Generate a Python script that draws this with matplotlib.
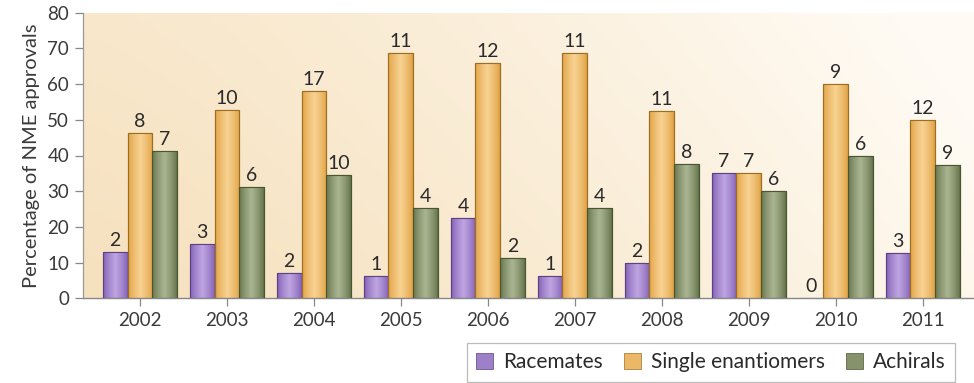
import matplotlib
matplotlib.use("Agg")
import matplotlib.pyplot as plt
import numpy as np
from matplotlib.patches import Patch

years = ["2002", "2003", "2004", "2005", "2006", "2007", "2008", "2009", "2010", "2011"]
series_names = ["Racemates", "Single enantiomers", "Achirals"]
racemates_pct = [12.9, 15.3, 7.0, 6.2, 22.5, 6.2, 10.0, 35.0, 0.0, 12.8]
single_pct = [46.3, 52.7, 58.2, 68.8, 66.0, 68.8, 52.5, 35.0, 60.0, 50.0]
achiral_pct = [41.2, 31.1, 34.5, 25.4, 11.3, 25.4, 37.6, 30.0, 39.8, 37.3]
racemates_n = [2, 3, 2, 1, 4, 1, 2, 7, 0, 3]
single_n = [8, 10, 17, 11, 12, 11, 11, 7, 9, 12]
achiral_n = [7, 6, 10, 4, 2, 4, 8, 6, 6, 9]
yticks = [0, 10, 20, 30, 40, 50, 60, 70, 80]

plt.rcParams['font.family'] = ['Lato', 'DejaVu Sans']

fig = plt.figure(figsize=(9.74, 3.83), dpi=100)
ax = fig.add_axes([83/974, (383-298.3)/383, 891/974, (298.3-12.7)/383])

# background gradient (beige on left fading to near-white on right/top)
gx = np.linspace(0, 1, 256)
gy = np.linspace(0, 1, 64)
GX, GY = np.meshgrid(gx, gy)
c_left = np.array([246, 225, 190]) / 255
c_right = np.array([255, 251, 244]) / 255
t = np.clip(GX**1.3 * 0.85 + GY * 0.25, 0, 1)[..., None]
bg = c_left * (1 - t) + c_right * t
ax.imshow(bg, extent=[0, 1, 0, 1], transform=ax.transAxes, aspect='auto',
          origin='lower', zorder=0)

x = np.arange(len(years))
w = 0.285
specs = [
    (racemates_pct, racemates_n, (np.array([126, 90, 176]), np.array([190, 165, 225])), "#5c4285"),
    (single_pct, single_n, (np.array([222, 158, 62]), np.array([248, 210, 145])), "#9c6e22"),
    (achiral_pct, achiral_n, (np.array([95, 112, 70]), np.array([170, 180, 145])), "#4a5632"),
]
offsets = [-w, 0, w]
legend_handles = []
for (vals, counts, (cdark, clight), edge), off, name in zip(specs, offsets, series_names):
    prof = np.concatenate([np.linspace(0, 1, 32), np.linspace(1, 0, 32)[1:]])
    prof = prof ** 0.7
    grad = (cdark[None, :] * (1 - prof[:, None]) + clight[None, :] * prof[:, None]) / 255
    grad = grad[None, :, :]
    bars = ax.bar(x + off, vals, width=w, color=tuple(cdark / 255), edgecolor=edge,
                  linewidth=0.8, zorder=2)
    for b, v, n in zip(bars, vals, counts):
        if v > 0:
            im = ax.imshow(grad, extent=[b.get_x(), b.get_x() + b.get_width(), 0, v],
                           aspect='auto', zorder=2.5)
            im.set_clip_path(b)
            b2 = plt.Rectangle((b.get_x(), 0), b.get_width(), v, fill=False,
                               edgecolor=edge, linewidth=0.8, zorder=3)
            ax.add_patch(b2)
        ax.text(b.get_x() + b.get_width() / 2, v + 0.8, str(n), ha='center', va='bottom',
                fontsize=14, color='#2a2a2a', zorder=4)
    legend_handles.append(Patch(facecolor=tuple((cdark * 0.5 + clight * 0.5) / 255),
                                edgecolor=edge, linewidth=0.5, label=name))

ax.set_xlim(-0.655, 9.59)
ax.set_ylim(0, 80)
ax.set_xticks(x)
ax.set_xticklabels(years, fontsize=13.5, color='#3a3a3a')
ax.set_yticks(yticks)
ax.set_yticklabels([str(v) for v in yticks], fontsize=13.5, color='#3a3a3a')
ax.tick_params(axis='both', direction='out', length=6, width=0.9, color='#888888', pad=4)
for s in ['top', 'right']:
    ax.spines[s].set_visible(False)
ax.spines['left'].set_color('#999999')
ax.spines['bottom'].set_color('#888888')
ax.spines['left'].set_linewidth(0.9)
ax.spines['bottom'].set_linewidth(1.0)
ax.set_ylabel("Percentage of NME approvals", fontsize=14.5, color='#3a3a3a', labelpad=5)

leg = fig.legend(handles=legend_handles, loc='upper left',
                 bbox_to_anchor=(467/974, 1 - 343/383), ncol=3, fontsize=15,
                 frameon=True, fancybox=False, edgecolor='#aaaaaa',
                 handlelength=0.8, handleheight=0.8, handletextpad=0.5,
                 columnspacing=1.0, borderpad=0.45, borderaxespad=0)
leg.get_frame().set_linewidth(0.9)
for txt in leg.get_texts():
    txt.set_color('#2a2a2a')

fig.savefig("out.png", dpi=100)
